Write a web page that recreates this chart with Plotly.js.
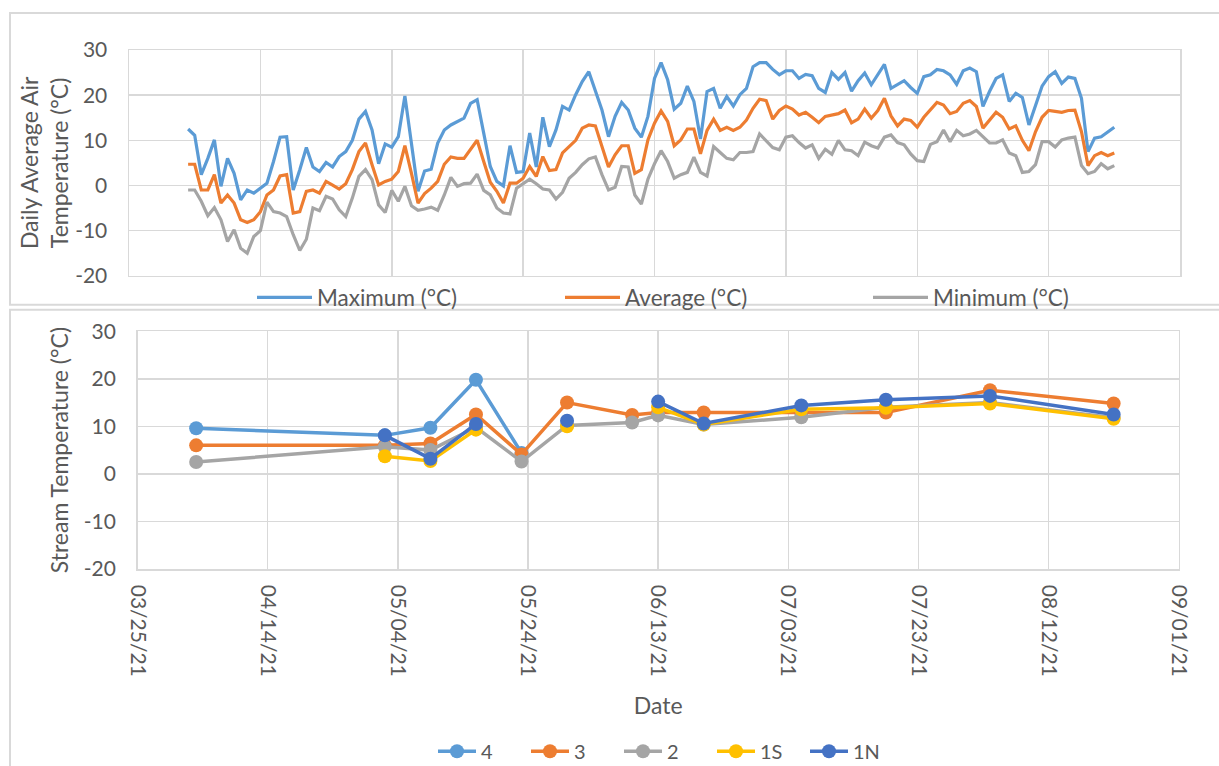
<!DOCTYPE html>
<html>
<head>
<meta charset="utf-8">
<script src="https://cdn.plot.ly/plotly-3.0.1.min.js"></script>
<style>
html,body{margin:0;padding:0;background:#ffffff;}
#chart{width:1219px;height:766px;}
</style>
</head>
<body>
<div id="chart"></div>
<script>
// ---------------- DATA ----------------
// Daily air temperature, first day of record
const airStartDate = '2021-04-03';
const airMaximum = [
  12.5, 11.1, 2.4, 6.0, 10.1, -0.2, 6.0, 2.7, -3.2, -1.0, -1.7, -0.6, 0.5, 5.3, 10.7, 10.8, -1.0, 3.5, 8.4, 4.1, 3.1, 5.1, 4.1, 6.4, 7.5, 10.0, 14.7, 16.4,
  12.3, 4.8, 9.2, 8.5, 10.8, 19.8, 9.4, -1.3, 3.2, 3.6, 9.4, 12.3, 13.4, 14.2, 14.9, 18.2, 19.0, 11.6, 4.2, 0.9, -0.1, 8.8, 2.9, 3.1, 11.6, 4.1, 15.1, 8.6, 12.3,
  17.5, 16.7, 20.1, 23.0, 25.2, 21.2, 16.7, 10.8, 15.3, 18.4, 16.7, 12.7, 10.7, 15.3, 23.7, 27.2, 23.4, 16.9, 18.2, 22.0, 18.6, 10.3, 20.8, 21.5, 17.1, 19.7, 17.6, 20.1, 21.5,
  26.3, 27.2, 27.2, 25.7, 24.5, 25.4, 25.4, 23.7, 24.6, 24.3, 21.5, 20.6, 25.0, 23.5, 25.0, 20.9, 23.2, 24.9, 22.3, 24.5, 26.8, 21.5, 22.4, 23.2, 21.7, 20.4, 24.1, 24.5,
  25.7, 25.4, 24.5, 22.4, 25.4, 26.0, 25.2, 17.5, 20.8, 23.7, 24.5, 18.6, 20.4, 19.5, 13.4, 17.8, 22.0, 24.1, 25.2, 22.6, 24.0, 23.7, 19.3, 7.5, 10.5, 10.8, 11.8, 12.9
];
const airAverage = [
  4.7, 4.7, -1.0, -1.0, 2.4, -3.9, -2.1, -3.9, -7.6, -8.2, -7.6, -5.8, -2.1, -1.0, 2.1, 2.4, -6.1, -5.8, -1.3, -1.0, -1.7, 0.9, 0.1, -0.8, 0.4, 3.5, 7.5, 9.4,
  4.6, 0.1, 0.9, 1.4, 3.1, 8.8, 2.7, -3.9, -1.8, -0.6, 0.9, 4.7, 6.3, 6.0, 6.0, 7.9, 10.0, 5.3, 0.7, -1.3, -3.9, 0.5, 0.5, 1.6, 4.2, 2.0, 6.4, 3.3, 3.5,
  7.2, 8.5, 10.0, 12.7, 13.4, 13.2, 8.6, 4.1, 6.8, 8.8, 8.8, 2.7, 3.5, 10.1, 13.8, 16.5, 14.2, 8.8, 10.1, 12.5, 12.5, 7.0, 12.2, 14.7, 12.2, 12.9, 12.2, 12.9, 14.5,
  17.1, 19.1, 18.8, 14.7, 16.6, 17.6, 16.9, 15.6, 16.2, 15.1, 13.9, 15.3, 15.6, 15.9, 16.7, 13.9, 14.7, 16.9, 14.9, 16.6, 19.3, 15.4, 13.2, 14.7, 14.4, 12.9, 15.1, 16.7,
  18.4, 17.8, 15.9, 16.4, 18.2, 18.8, 17.5, 12.7, 14.4, 16.2, 15.1, 12.5, 13.2, 10.0, 7.7, 11.9, 15.1, 16.6, 16.4, 16.2, 16.6, 16.7, 11.9, 4.4, 6.6, 7.3, 6.6, 7.2
];
const airMinimum = [
  -1.0, -1.0, -3.5, -6.7, -4.9, -7.6, -12.4, -9.8, -13.9, -15.0, -11.3, -10.0, -3.7, -5.8, -6.1, -6.9, -10.9, -14.4, -11.9, -5.0, -5.6, -2.4, -3.0, -5.4, -6.9, -2.8, 2.0, 3.5,
  1.3, -4.3, -6.0, -1.1, -3.5, -0.2, -4.5, -5.5, -5.2, -4.8, -5.5, -2.1, 1.8, -0.2, 0.4, 0.5, 2.5, -1.1, -2.1, -5.0, -6.1, -6.3, -0.6, 0.5, 1.4, 0.4, -0.8, -1.0, -3.0,
  -1.5, 1.6, 2.9, 4.6, 5.9, 6.3, 2.4, -1.0, -0.4, 4.2, 4.1, -2.1, -4.1, 1.4, 4.8, 7.7, 5.3, 1.6, 2.4, 2.9, 6.3, 2.9, 2.1, 8.6, 7.3, 6.0, 5.7, 7.3, 7.3,
  7.5, 11.4, 9.9, 8.4, 7.9, 10.7, 11.0, 9.5, 8.3, 9.0, 6.0, 8.0, 6.9, 10.0, 7.9, 7.7, 6.6, 9.6, 8.8, 8.3, 10.7, 11.2, 9.5, 9.0, 7.0, 5.5, 5.3, 9.1,
  9.7, 12.3, 9.7, 12.2, 11.0, 11.4, 12.2, 10.7, 9.4, 9.4, 10.1, 7.2, 6.6, 2.9, 3.1, 4.6, 9.7, 9.7, 8.5, 10.1, 10.5, 10.7, 4.4, 2.6, 3.1, 4.8, 3.7, 4.4
];
const airSeriesNames = ['Maximum (°C)', 'Average (°C)', 'Minimum (°C)'];

// Stream temperature sampling dates and sites
const streamDates = ['2021-04-03','2021-05-02','2021-05-09','2021-05-16','2021-05-23','2021-05-30','2021-06-09','2021-06-13','2021-06-20','2021-07-05','2021-07-18','2021-08-03','2021-08-22'];
const site4  = [9.6, 8.1, 9.7, 19.8, 4.4, null, null, null, null, null, null, null, null];
const site3  = [6.0, 6.0, 6.4, 12.5, 4.1, 15.0, 12.4, 12.9, 12.9, 12.9, 12.9, 17.6, 14.8];
const site2  = [2.5, 5.7, 5.0, 9.8, 2.6, 10.2, 10.8, 12.3, 10.4, 11.9, 14.0, 15.0, 11.8];
const site1S = [null, 3.7, 2.7, 9.3, null, 10.0, null, 14.0, 10.4, 13.6, 13.9, 14.8, 11.6];
const site1N = [null, 8.1, 3.2, 10.5, null, 11.2, null, 15.2, 10.6, 14.4, 15.6, 16.4, 12.5];
const siteNames = ['4', '3', '2', '1S', '1N'];

const axisStart = '2021-03-25';
const axisEnd = '2021-09-01';
const yTickVals = [-20, -10, 0, 10, 20, 30];
const yTickText = ['-20', '-10', '0', '10', '20', '30'];

// ---------------- BUILD ----------------
function dailyDates(start, n) {
  const p = start.split('-').map(Number);
  const t0 = Date.UTC(p[0], p[1] - 1, p[2]);
  const out = [];
  for (let i = 0; i < n; i++) out.push(new Date(t0 + i * 86400000).toISOString().slice(0, 10));
  return out;
}
const airDates = dailyDates(airStartDate, airMaximum.length);

const W = 1219, H = 766;
const M = {l: 129, r: W - 1180, t: 50, b: H - 569.5, autoexpand: false};
const PW = W - M.l - M.r, PH = H - M.t - M.b;
const px = v => (v - M.l) / PW;
const py = v => (H - M.b - v) / PH;

const FONT = 'Lato, "Open Sans", "DejaVu Sans", sans-serif';
const GRID = '#d9d9d9';
const TXT = '#595959';
const airColors = ['#5B9BD5', '#ED7D31', '#A5A5A5'];
const siteColors = ['#5B9BD5', '#ED7D31', '#A5A5A5', '#FFC000', '#4472C4'];

const traces = [];
[airMaximum, airAverage, airMinimum].forEach((arr, i) => {
  traces.push({
    type: 'scatter', mode: 'lines', x: airDates, y: arr, name: airSeriesNames[i],
    xaxis: 'x', yaxis: 'y', legend: 'legend',
    line: {color: airColors[i], width: 3.2}
  });
});
[site4, site3, site2, site1S, site1N].forEach((arr, i) => {
  traces.push({
    type: 'scatter', mode: 'lines+markers', x: streamDates, y: arr, name: siteNames[i],
    xaxis: 'x2', yaxis: 'y2', legend: 'legend2', connectgaps: false,
    line: {color: siteColors[i], width: 3.5},
    marker: {color: siteColors[i], size: 14}
  });
});

const xCommon = {
  type: 'date', range: [axisStart, axisEnd], tick0: axisStart, dtick: 20 * 86400000,
  showgrid: true, gridcolor: GRID, gridwidth: 1.5, showline: true, linecolor: GRID, linewidth: 1.5,
  mirror: true, ticks: '', zeroline: false, fixedrange: true, automargin: false
};
const yCommon = {
  range: [-20, 30], tickvals: yTickVals, ticktext: yTickText, showgrid: true, gridcolor: GRID, gridwidth: 1.5,
  showline: true, linecolor: GRID, linewidth: 1.5, mirror: true, ticks: '', zeroline: false,
  tickfont: {family: FONT, size: 21, color: TXT}, ticklabelstandoff: 16, fixedrange: true, automargin: false
};

const layout = {
  width: W, height: H, margin: M,
  paper_bgcolor: '#ffffff', plot_bgcolor: '#ffffff',
  font: {family: FONT, color: TXT},
  showlegend: true,
  xaxis: Object.assign({}, xCommon, {domain: [0, 1], anchor: 'y', showticklabels: false}),
  yaxis: Object.assign({}, yCommon, {
    domain: [py(276), 1], anchor: 'x',
    title: {text: 'Daily Average Air<br>Temperature (°C)', font: {family: FONT, size: 23, color: TXT}, standoff: 0}
  }),
  xaxis2: Object.assign({}, xCommon, {
    domain: [px(137.6), px(1178.7)], anchor: 'y2', showticklabels: true,
    tickformat: '%m/%d/%y', tickangle: 90, ticklabelstandoff: 10,
    tickfont: {family: FONT, size: 21, color: TXT},
    title: {text: 'Date', font: {family: FONT, size: 23, color: TXT}, standoff: 22}
  }),
  yaxis2: Object.assign({}, yCommon, {
    domain: [0, py(331.5)], anchor: 'x2',
    title: {text: 'Stream Temperature (°C)', font: {family: FONT, size: 23, color: TXT}, standoff: 8}
  }),
  legend: {
    orientation: 'h', x: px(252), xanchor: 'left', y: py(298), yanchor: 'middle',
    font: {family: FONT, size: 22.5, color: TXT}, itemwidth: 55, entrywidth: 238,
    bgcolor: 'rgba(0,0,0,0)', traceorder: 'normal'
  },
  legend2: {
    orientation: 'h', x: px(433), xanchor: 'left', y: py(752), yanchor: 'middle',
    font: {family: FONT, size: 20, color: TXT}, itemwidth: 38, entrywidth: 40,
    bgcolor: 'rgba(0,0,0,0)', traceorder: 'normal'
  },
  shapes: [
    {type: 'rect', xref: 'paper', yref: 'paper', x0: px(10), x1: px(1232), y0: py(13), y1: py(305),
     line: {color: GRID, width: 2}, fillcolor: 'rgba(0,0,0,0)', layer: 'below'},
    {type: 'rect', xref: 'paper', yref: 'paper', x0: px(10), x1: px(1232), y0: py(310), y1: py(790),
     line: {color: GRID, width: 2}, fillcolor: 'rgba(0,0,0,0)', layer: 'below'}
  ]
};

Plotly.newPlot('chart', traces, layout, {staticPlot: true, displayModeBar: false});
</script>
</body>
</html>
